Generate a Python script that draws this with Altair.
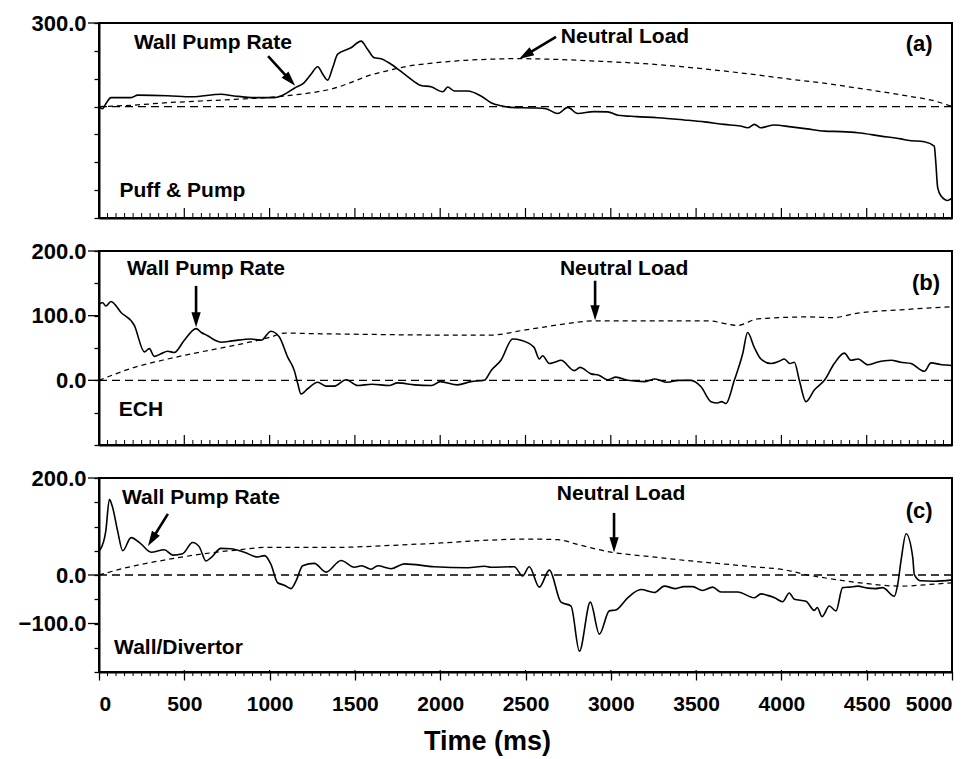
import json
import math
import altair as alt
import pandas as pd

FONT = "Liberation Sans"
W = 853
HEIGHTS = [195, 194, 194]

X_MINOR = list(range(0, 5001, 50))
X_MAJOR = list(range(0, 5001, 500))

# ---------------- panel (a) Puff & Pump ----------------
A_PUMP = [[0, 0], [20, -8], [45, 15], [70, 32], [188, 32], [227, 41], [403, 39], [545, 35],
          [715, 44], [793, 38], [910, 32], [1027, 32], [1067, 38], [1145, 66], [1203, 86],
          [1243, 116], [1282, 143], [1310, 118], [1340, 95], [1370, 140], [1399, 188],
          [1477, 211], [1536, 235], [1575, 205], [1614, 175], [1653, 172], [1712, 152],
          [1800, 112], [1887, 76], [1946, 71], [2015, 53], [2044, 70], [2083, 56], [2161, 56],
          [2239, 38], [2298, 14], [2356, 3], [2415, -3], [2550, -5], [2620, -8], [2689, -25],
          [2748, -3], [2806, -25], [2900, -18], [2982, -19], [3041, -31], [3150, -36],
          [3275, -40], [3430, -48], [3550, -55], [3665, -64], [3760, -70], [3803, -76],
          [3842, -64], [3880, -76], [3959, -66], [4057, -73], [4150, -80], [4252, -88],
          [4350, -90], [4448, -94], [4584, -106], [4700, -116], [4740, -121], [4838, -126],
          [4896, -142], [4905, -200], [4916, -291], [4936, -321], [4975, -337], [5000, -329]]
A_NEUTRAL = [[0, 0], [200, 5], [403, 14], [600, 20], [793, 26], [1000, 33], [1087, 38],
             [1250, 50], [1380, 66], [1500, 92], [1575, 110], [1700, 130], [1770, 140],
             [1966, 157], [2150, 166], [2298, 170], [2454, 172], [2650, 170], [2884, 164],
             [3200, 154], [3470, 140], [3800, 118], [4057, 98], [4250, 84], [4448, 66],
             [4600, 52], [4740, 38], [4900, 20], [5000, 0]]
A_YDOMAIN = [-400, 300]
A_YTICKS = list(range(-400, 301, 100))
A_YLABELS = [300]
A_NOTES = [["Wall Pump Rate", 668, 228, 21], ["Neutral Load", 3083, 250, 21],
           ["(a)", 4807, 225, 22], ["Puff & Pump", 489, -303, 21]]
A_ARROWS = [[991, 181, 1150, 75], [2679, 250, 2462, 171]]

# ---------------- panel (b) ECH ----------------
B_PUMP = [[0, 118], [22, 120], [40, 115], [70, 122], [129, 105], [207, 85], [266, 44], [295, 49],
          [324, 37], [363, 41], [403, 45], [441, 43], [500, 62], [569, 80], [600, 74], [637, 69],
          [680, 62], [715, 59], [780, 61], [891, 64], [950, 62], [1008, 76], [1040, 72],
          [1057, 67], [1106, 36], [1145, 15], [1165, -5], [1184, -21], [1223, -13], [1282, -3],
          [1330, -9], [1380, -9], [1448, 1], [1516, -8], [1600, -6], [1700, -8], [1750, -4],
          [1850, -7], [1950, -8], [2000, -2], [2100, -7], [2180, -2], [2258, 0], [2298, 15],
          [2356, 31], [2425, 64], [2474, 62], [2550, 51], [2581, 33], [2600, 38], [2640, 26],
          [2670, 28], [2708, 31], [2786, 15], [2820, 20], [2884, 10], [2930, 8], [2982, 1],
          [3030, 5], [3100, 0], [3200, -2], [3260, 2], [3330, -3], [3400, 0], [3470, 0],
          [3529, -10], [3587, -33], [3626, -35], [3650, -33], [3675, -36], [3724, 0],
          [3773, 41], [3802, 74], [3841, 51], [3880, 33], [3939, 26], [3990, 30], [4017, 33],
          [4050, 26], [4076, 28], [4105, 0], [4144, -33], [4193, -15], [4252, 0], [4310, 26],
          [4369, 42], [4408, 31], [4450, 33], [4506, 24], [4560, 28], [4643, 31], [4700, 28],
          [4760, 26], [4838, 14], [4877, 27], [4940, 24], [5000, 23]]
B_NEUTRAL = [[0, 0], [207, 20], [403, 33], [598, 44], [793, 54], [1008, 67], [1087, 73],
             [1300, 72], [1600, 71], [2000, 70], [2298, 70], [2500, 78], [2700, 86], [2908, 92],
             [3300, 92], [3568, 92], [3744, 85], [3861, 95], [4154, 98], [4300, 97], [4448, 104],
             [4700, 109], [5000, 114]]
B_YDOMAIN = [-100, 200]
B_YTICKS = list(range(-100, 201, 50))
B_YLABELS = [0, 100, 200]
B_NOTES = [["Wall Pump Rate", 627, 172, 21], ["Neutral Load", 3078, 172, 21],
           ["(b)", 4848, 151, 22], ["ECH", 246, -46, 21]]
B_ARROWS = [[569, 146, 569, 82], [2908, 154, 2908, 93]]

# ---------------- panel (c) Wall/Divertor ----------------
C_PUMP = [[0, 50], [8, 53], [40, 91], [61, 156], [80, 139], [109, 91], [139, 50], [188, 77],
          [246, 64], [305, 47], [383, 52], [432, 41], [490, 44], [549, 67], [588, 58], [627, 29],
          [657, 36], [715, 55], [774, 54], [852, 47], [930, 37], [970, 40], [1008, 22],
          [1047, -16], [1086, -21], [1125, -28], [1155, -12], [1194, 19], [1262, 24], [1331, 6],
          [1419, 30], [1497, 16], [1540, 19], [1595, 12], [1634, 19], [1712, 13], [1790, 23],
          [1966, 17], [2161, 15], [2259, 18], [2298, 16], [2434, 17], [2483, -2], [2522, 17],
          [2581, -25], [2640, 10], [2708, -56], [2767, -64], [2816, -157], [2880, -56],
          [2933, -122], [2991, -74], [3030, -72], [3099, -47], [3177, -30], [3255, -36],
          [3314, -23], [3380, -28], [3430, -24], [3480, -24], [3538, -32], [3597, -25],
          [3646, -35], [3744, -35], [3841, -47], [3880, -39], [3919, -42], [3960, -47],
          [4007, -55], [4046, -37], [4076, -50], [4144, -54], [4193, -73], [4210, -67],
          [4238, -86], [4281, -64], [4320, -74], [4359, -26], [4400, -25], [4447, -23],
          [4506, -27], [4550, -28], [4594, -26], [4662, -44], [4682, -19], [4701, 29],
          [4731, 85], [4770, 36], [4779, 1], [4818, -12], [4896, -13], [5000, -10]]
C_NEUTRAL = [[0, 0], [207, 19], [403, 32], [598, 43], [793, 51], [989, 57], [1380, 57],
             [1770, 62], [2000, 66], [2298, 72], [2500, 74], [2689, 73], [2806, 63], [3001, 47],
             [3200, 39], [3470, 29], [3800, 18], [4057, 8], [4115, 3], [4310, -9], [4506, -18],
             [4701, -23], [4850, -20], [5000, -16]]
C_YDOMAIN = [-200, 200]
C_YTICKS = list(range(-200, 201, 50))
C_YLABELS = [-100, 0, 200]
C_NOTES = [["Wall Pump Rate", 598, 159, 21], ["Neutral Load", 3060, 167, 21],
           ["(c)", 4807, 132, 22], ["Wall/Divertor", 466, -150, 21]]
C_ARROWS = [[404, 126, 287, 60], [3019, 128, 3019, 47]]

HEAD_PATH = "M0,0L-0.62,2L0.62,2Z"
HEAD_LEN = 15.0


def panel(pump, neutral, ydom, yticks, ylabels, notes, arrows, height, bottom):
    xs = alt.Scale(domain=[0, 5000], nice=False, zero=False)
    ys = alt.Scale(domain=ydom, nice=False, zero=False)
    lab = "indexof(%s, datum.value) >= 0 ? format(datum.value, '.1f') : ''" % json.dumps(ylabels)
    yaxis = alt.Axis(values=yticks, labelExpr=lab, tickSize=5, labelPadding=8, title=None,
                     labelFontSize=22, grid=False)
    if bottom:
        xaxis = alt.Axis(values=X_MAJOR, format="d", tickSize=8, labelPadding=13,
                         labelFontSize=21, title="Time (ms)", titleFontSize=27,
                         titleFont=FONT, titleFontWeight="bold", titleX=388, titleY=69,
                         titleBaseline="middle", titleAnchor="middle", grid=False)
    else:
        xaxis = alt.Axis(values=X_MAJOR, labels=False, ticks=False, title=None, grid=False)
    X = alt.X("t:Q", scale=xs, axis=xaxis)
    Y = alt.Y("v:Q", scale=ys, axis=yaxis)

    px_t = W / 5000.0
    px_v = height / float(ydom[1] - ydom[0])

    zero = alt.Chart(pd.DataFrame({"v": [0]})).mark_rule(
        color="black", strokeWidth=1.3, strokeDash=[8, 5]).encode(y=Y)
    neu = alt.Chart(pd.DataFrame(neutral, columns=["t", "v"])).mark_line(
        color="black", strokeWidth=1.25, strokeDash=[5, 4], interpolate="monotone").encode(x=X, y=Y)
    pmp = alt.Chart(pd.DataFrame(pump, columns=["t", "v"])).mark_line(
        color="black", strokeWidth=1.6, interpolate="monotone").encode(x=X, y=Y)

    minor_df = pd.DataFrame({"t": [t for t in X_MINOR if t % 500 != 0]})
    major_df = pd.DataFrame({"t": X_MAJOR})
    if bottom:
        tk1 = alt.Chart(minor_df).mark_rule(color="black", strokeWidth=1).encode(
            x=X, y=alt.value(height), y2=alt.value(height + 4))
        tk2 = alt.Chart(major_df).mark_rule(color="black", strokeWidth=1.2).encode(
            x=X, y=alt.value(height - 2), y2=alt.value(height))
    else:
        tk1 = alt.Chart(minor_df).mark_rule(color="black", strokeWidth=1).encode(
            x=X, y=alt.value(height), y2=alt.value(height - 5))
        tk2 = alt.Chart(major_df).mark_rule(color="black", strokeWidth=1.2).encode(
            x=X, y=alt.value(height), y2=alt.value(height - 10))
    ymaj = alt.Chart(pd.DataFrame({"v": ylabels})).mark_rule(color="black", strokeWidth=1.3).encode(
        y=Y, x=alt.value(-11), x2=alt.value(0))

    notes_df = pd.DataFrame(notes, columns=["label", "t", "v", "fs"])
    txt = alt.Chart(notes_df).mark_text(
        font=FONT, fontWeight="bold", color="black", align="center", baseline="middle").encode(
        x=X, y=Y, text="label:N", size=alt.Size("fs:Q", scale=None, legend=None))

    shafts, heads = [], []
    for t1, v1, t2, v2 in arrows:
        dx = (t2 - t1) * px_t
        dy = -(v2 - v1) * px_v
        L = math.hypot(dx, dy)
        ux, uy = dx / L, dy / L
        ang = math.degrees(math.atan2(ux, -uy)) % 360
        back = HEAD_LEN * 0.6
        te = t2 - ux * back / px_t
        ve = v2 + uy * back / px_v
        shafts.append({"t": t1, "v": v1, "t2": te, "v2": ve})
        heads.append({"t": t2, "v": v2, "ang": ang})
    sh = alt.Chart(pd.DataFrame(shafts)).mark_rule(color="black", strokeWidth=2.6).encode(
        x=X, y=Y, x2="t2:Q", y2="v2:Q")
    hd = alt.Chart(pd.DataFrame(heads)).mark_point(
        shape=HEAD_PATH, filled=True, color="black", opacity=1, size=HEAD_LEN ** 2,
        strokeWidth=0).encode(x=X, y=Y, angle=alt.Angle("ang:Q", scale=None))

    return alt.layer(zero, neu, pmp, tk1, tk2, ymaj, sh, hd, txt).properties(
        width=W, height=height)


pa = panel(A_PUMP, A_NEUTRAL, A_YDOMAIN, A_YTICKS, A_YLABELS, A_NOTES, A_ARROWS, HEIGHTS[0], False)
pb = panel(B_PUMP, B_NEUTRAL, B_YDOMAIN, B_YTICKS, B_YLABELS, B_NOTES, B_ARROWS, HEIGHTS[1], False)
pc = panel(C_PUMP, C_NEUTRAL, C_YDOMAIN, C_YTICKS, C_YLABELS, C_NOTES, C_ARROWS, HEIGHTS[2], True)

chart = alt.vconcat(pa, pb, pc, spacing=33, bounds="flush").properties(
    padding={"left": 9, "top": 3, "right": 5, "bottom": 5},
    background="white",
).configure_view(
    stroke="black", strokeWidth=2
).configure_axis(
    domainColor="black", domainWidth=2, tickColor="black", tickWidth=1.3,
    labelColor="black", labelFont=FONT, labelFontWeight="bold", titleColor="black",
)

chart.save("out.html", embed_options={"renderer": "svg", "actions": False})
